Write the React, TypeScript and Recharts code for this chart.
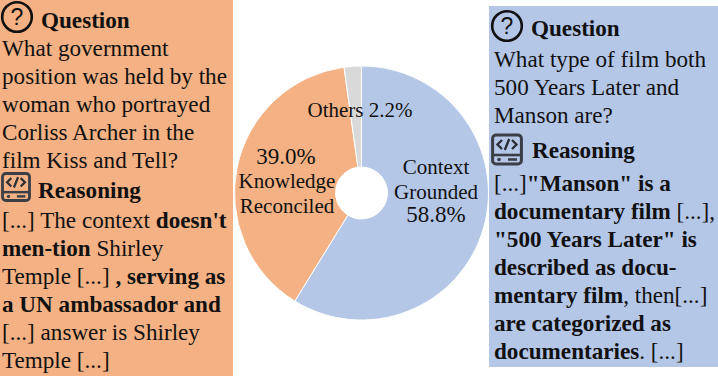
import React from "react";
import { PieChart, Pie, Cell } from "recharts";

const categories = ["Context Grounded", "Knowledge Reconciled", "Others"];
const shares = [58.8, 39.0, 2.2];
const colors = ["#B4C7E7", "#F4B183", "#D9D9D9"];

const data = categories.map((name, i) => ({ name, value: shares[i] }));

type Seg = [string, boolean?];

const leftQuestion: Seg[][] = [
  [["What government"]],
  [["position was held by the"]],
  [["woman who portrayed"]],
  [["Corliss Archer in the"]],
  [["film Kiss and Tell?"]],
];
const leftReasoning: Seg[][] = [
  [["[...] The context "], ["doesn't", true]],
  [["men-tion", true], [" Shirley"]],
  [["Temple [...] "], [", serving as", true]],
  [["a UN ambassador and", true]],
  [["[...] answer is Shirley"]],
  [["Temple [...]"]],
];
const rightQuestion: Seg[][] = [
  [["What type of film both"]],
  [["500 Years Later and"]],
  [["Manson are?"]],
];
const rightReasoning: Seg[][] = [
  [["[...]"], ['"Manson" is a', true]],
  [["documentary film", true], [" [...],"]],
  [['"500 Years Later" is', true]],
  [["described as docu-", true]],
  [["mentary film", true], [", then[...]"]],
  [["are categorized as", true]],
  [["documentaries", true], [". [...]"]],
];

const FONT = "'Liberation Serif', serif";
const LINE = 28;

function Lines({ lines, x, top, step = LINE }: { lines: Seg[][]; x: number; top: number; step?: number }) {
  return (
    <>
      {lines.map((line, i) => (
        <div
          key={i}
          style={{ position: "absolute", left: x, top: top + i * step, lineHeight: `${LINE}px`, whiteSpace: "pre" }}
        >
          {line.map(([text, bold], j) => (
            <span key={j} style={{ fontWeight: bold ? 700 : 400 }}>
              {text}
            </span>
          ))}
        </div>
      ))}
    </>
  );
}

function Heading({ text, x, top }: { text: string; x: number; top: number }) {
  return (
    <div style={{ position: "absolute", left: x, top, lineHeight: `${LINE}px`, fontWeight: 700 }}>{text}</div>
  );
}

function QuestionIcon({ x, y }: { x: number; y: number }) {
  return (
    <svg style={{ position: "absolute", left: x, top: y }} width={34} height={34}>
      <circle cx={17} cy={17} r={14.8} fill="none" stroke="#111" strokeWidth={2.6} />
      <text x={17} y={25} textAnchor="middle" fontFamily="'Liberation Sans', sans-serif" fontSize={23} fill="#111">
        ?
      </text>
    </svg>
  );
}

function CodeIcon({ x, y, w, h }: { x: number; y: number; w: number; h: number }) {
  return (
    <svg style={{ position: "absolute", left: x, top: y }} width={w} height={h} viewBox="0 0 32 32">
      <rect x={1.6} y={1.6} width={28.8} height={28.8} rx={3.5} fill="none" stroke="#3a3f47" strokeWidth={3} />
      <line x1={2} y1={21.5} x2={30} y2={21.5} stroke="#3a3f47" strokeWidth={2.6} />
      <path d="M11 6.5 L6.5 11 L11 15.5 M21 6.5 L25.5 11 L21 15.5 M18.2 5.5 L13.8 16.5" fill="none" stroke="#2b2f36" strokeWidth={2.4} />
      <circle cx={8} cy={26} r={1.8} fill="#3a3f47" />
      <line x1={17} y1={26} x2={26} y2={26} stroke="#3a3f47" strokeWidth={2.6} />
    </svg>
  );
}

function sliceLabel(props: any) {
  const { index, cx, cy } = props;
  const common = { textAnchor: "middle" as const, fontFamily: FONT, fill: "#111" };
  if (index === 0) {
    return (
      <g key={index}>
        <text {...common} x={cx + 74.5} y={cy - 19} fontSize={21}>Context</text>
        <text {...common} x={cx + 74.5} y={cy + 6} fontSize={21}>Grounded</text>
        <text {...common} x={cx + 74.5} y={cy + 29} fontSize={23}>58.8%</text>
      </g>
    );
  }
  if (index === 1) {
    return (
      <g key={index}>
        <text {...common} x={cx - 75.5} y={cy - 29} fontSize={23}>39.0%</text>
        <text {...common} x={cx - 74.5} y={cy - 5} fontSize={21}>Knowledge</text>
        <text {...common} x={cx - 74.5} y={cy + 20} fontSize={21}>Reconciled</text>
      </g>
    );
  }
  return (
    <text key={index} {...common} x={cx - 1.5} y={cy - 76} fontSize={21}>
      Others 2.2%
    </text>
  );
}

export default function App() {
  return (
    <div
      style={{
        position: "fixed",
        left: 0,
        top: 0,
        width: 718,
        height: 376,
        background: "#fff",
        overflow: "hidden",
        fontFamily: FONT,
        fontSize: 23.15,
        color: "#111",
      }}
    >
      <div style={{ position: "absolute", left: 0, top: 0, width: 233, height: 376, background: colors[1] }} />
      <div style={{ position: "absolute", left: 489, top: 6, width: 229, height: 361, background: colors[0] }} />

      <QuestionIcon x={0} y={0} />
      <Heading text="Question" x={41} top={6} />
      <Lines lines={leftQuestion} x={2} top={34} />
      <CodeIcon x={1} y={172} w={30} h={30} />
      <Heading text="Reasoning" x={38} top={176} />
      <Lines lines={leftReasoning} x={2} top={206} />

      <QuestionIcon x={489.5} y={9} />
      <Heading text="Question" x={531} top={14} />
      <Lines lines={rightQuestion} x={494} top={45} />
      <CodeIcon x={491} y={133} w={32} h={33} />
      <Heading text="Reasoning" x={532} top={136} />
      <Lines lines={rightReasoning} x={494} top={169} step={28} />

      <div style={{ position: "absolute", left: 0, top: 0 }}>
        <PieChart width={718} height={376} margin={{ top: 0, right: 0, bottom: 0, left: 0 }}>
          <Pie
            data={data}
            dataKey="value"
            nameKey="name"
            cx={361.5}
            cy={193}
            innerRadius={26}
            outerRadius={127}
            startAngle={90}
            endAngle={-270}
            stroke="#fff"
            strokeWidth={1}
            label={sliceLabel}
            labelLine={false}
            isAnimationActive={false}
          >
            {data.map((d, i) => (
              <Cell key={d.name} fill={colors[i]} />
            ))}
          </Pie>
        </PieChart>
      </div>
    </div>
  );
}
